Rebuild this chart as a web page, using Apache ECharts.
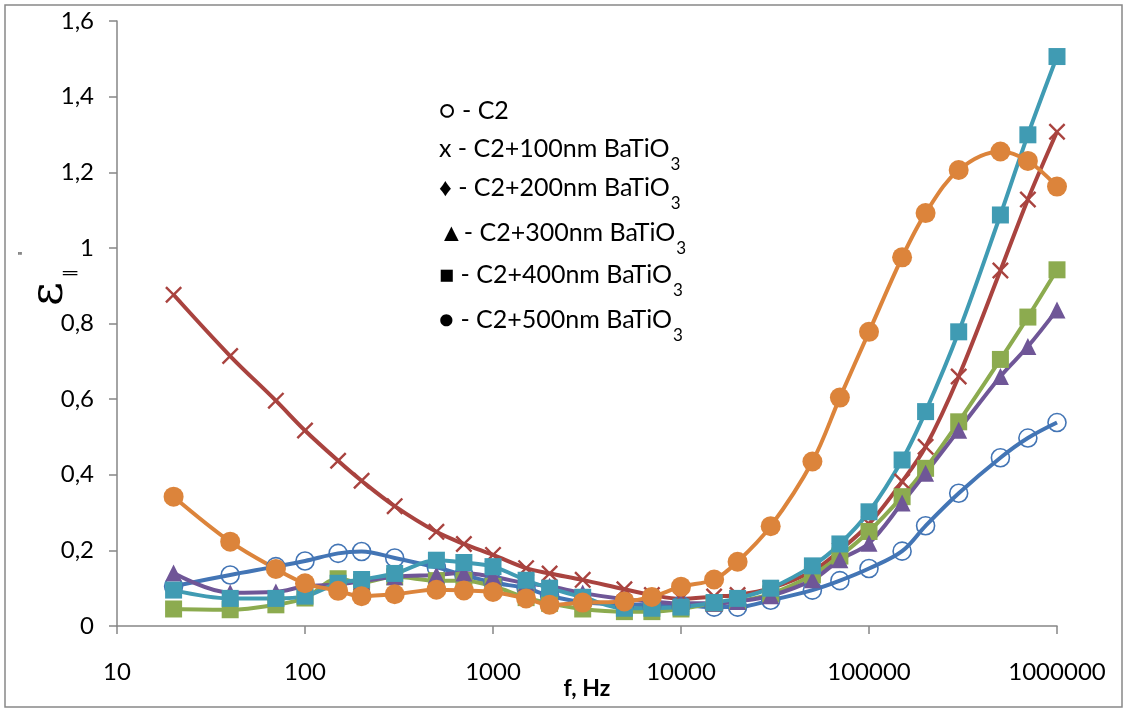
<!DOCTYPE html>
<html>
<head>
<meta charset="utf-8">
<script src="https://cdn.jsdelivr.net/npm/echarts@6/dist/echarts.min.js"></script>
<style>html,body{margin:0;padding:0;background:#fff}#c{width:1127px;height:711px}</style>
</head>
<body>
<div id="c"></div>
<script>
const freqs = [20,40,70,100,150,200,300,500,700,1000,1500,2000,3000,5000,7000,10000,15000,20000,30000,50000,70000,100000,150000,200000,300000,500000,700000,1000000];
const c2      = [0.105,0.135,0.157,0.172,0.192,0.197,0.18,0.155,0.135,0.115,0.1,0.08,0.063,0.057,0.055,0.055,0.05,0.05,0.068,0.095,0.12,0.152,0.198,0.265,0.351,0.445,0.497,0.538];
const c2_100  = [0.876,0.714,0.596,0.517,0.437,0.384,0.317,0.249,0.217,0.188,0.153,0.139,0.122,0.097,0.082,0.072,0.078,0.082,0.1,0.145,0.2,0.27,0.382,0.474,0.66,0.94,1.128,1.307];
const c2_200  = [0.045,0.043,0.056,0.074,0.125,0.115,0.13,0.12,0.12,0.105,0.075,0.06,0.045,0.038,0.038,0.045,0.06,0.065,0.085,0.135,0.185,0.25,0.342,0.417,0.54,0.705,0.817,0.942];
const c2_300  = [0.14,0.088,0.09,0.105,0.11,0.118,0.13,0.135,0.14,0.13,0.113,0.105,0.087,0.071,0.065,0.06,0.06,0.065,0.08,0.122,0.175,0.219,0.325,0.404,0.518,0.66,0.739,0.836];
const c2_400  = [0.095,0.073,0.073,0.079,0.113,0.123,0.139,0.174,0.168,0.157,0.121,0.1,0.076,0.047,0.047,0.05,0.062,0.073,0.1,0.159,0.217,0.302,0.439,0.567,0.778,1.087,1.299,1.506];
const c2_500  = [0.342,0.223,0.151,0.113,0.093,0.079,0.084,0.096,0.094,0.09,0.073,0.056,0.062,0.065,0.077,0.104,0.123,0.17,0.264,0.435,0.604,0.778,0.975,1.092,1.206,1.255,1.23,1.162];
const xTickLabels = ['10','100','1000','10000','100000','1000000'];
const legendLines = [
  {sym:'○', text:' - C2', sub:''},
  {sym:'x', text:' - C2+100nm BaTiO', sub:'3'},
  {sym:'♦', text:' - C2+200nm BaTiO', sub:'3'},
  {sym:'▲', text:'- C2+300nm BaTiO', sub:'3'},
  {sym:'■', text:' - C2+400nm BaTiO', sub:'3'},
  {sym:'●', text:' - C2+500nm BaTiO', sub:'3'}
];

const FONT = 'Lato';
const pairs = ys => freqs.map((f,i)=>[f, ys[i]]);
const crossPath = 'path://M0,1L1,0L10,9L9,10Z M9,0L10,1L1,10L0,9Z';

function mk(name, ys, color, symbol, size, extra) {
  return Object.assign({
    name, type:'line', data: pairs(ys), smooth: 0.35,
    symbol, symbolSize: size, showSymbol: true,
    lineStyle:{color, width:4},
    itemStyle:{color},
    emphasis:{disabled:true},
    animation:false
  }, extra || {});
}

const chart = echarts.init(document.getElementById('c'), null, {renderer:'canvas'});
const legendGraphics = legendLines.map((l,i)=>({
  type:'text', left: 439, top: [98,136,175,220,262,307][i],
  style:{
    rich:{
      m:{fontFamily:FONT, fontSize:25, lineHeight:30, verticalAlign:'top', fill:'#000'},
      s:{fontFamily:FONT, fontSize:17, lineHeight:17, padding:[20,0,0,1], verticalAlign:'top', fill:'#000'}
    },
    text: '{m|' + l.sym + l.text + '}' + (l.sub ? '{s|' + l.sub + '}' : '')
  }
}));

chart.setOption({
  backgroundColor:'#fff',
  animation:false,
  grid:{left:117, right:70, top:21, bottom:85, containLabel:false},
  xAxis:{
    type:'log', logBase:10, min:10, max:1000000,
    axisLine:{show:true, lineStyle:{color:'#868686', width:1.5}},
    axisTick:{show:true, length:8, lineStyle:{color:'#868686', width:1.5}},
    splitLine:{show:false},
    axisLabel:{fontFamily:FONT, fontSize:24, color:'#000', margin:34,
      formatter: v => { const k = Math.round(Math.log10(v)) - 1; return xTickLabels[k] !== undefined ? xTickLabels[k] : String(Math.round(v)); }}
  },
  yAxis:{
    type:'value', min:0, max:1.6, interval:0.2,
    axisLine:{show:true, lineStyle:{color:'#868686', width:1.5}},
    axisTick:{show:true, length:8, lineStyle:{color:'#868686', width:1.5}},
    splitLine:{show:false},
    axisLabel:{fontFamily:FONT, fontSize:24, color:'#000', margin:23,
      formatter: v => { const r = Math.round(v*10)/10; return Number.isInteger(r) ? String(r) : r.toFixed(1).replace('.', ','); }}
  },
  series:[
    mk('C2', c2, '#4375b5', 'circle', 18, {itemStyle:{color:'rgba(255,255,255,0)', borderColor:'#4375b5', borderWidth:1.6}}),
    mk('C2+100nm BaTiO3', c2_100, '#a9433f', crossPath, 17),
    mk('C2+200nm BaTiO3', c2_200, '#8cab4f', 'rect', 17),
    mk('C2+300nm BaTiO3', c2_300, '#6f5697', 'triangle', 17),
    mk('C2+400nm BaTiO3', c2_400, '#409bb3', 'rect', 17),
    mk('C2+500nm BaTiO3', c2_500, '#dc843b', 'circle', 20)
  ],
  graphic:[
    {type:'rect', shape:{x:5, y:5, width:1117, height:702}, style:{fill:'none', stroke:'#888', lineWidth:1.5}, silent:true},
    {type:'text', x:587, y:689, style:{text:'f, Hz', fontFamily:FONT, fontSize:23, fontWeight:'bold', fill:'#000', align:'center', verticalAlign:'middle'}},
    {type:'text', x:50, y:294, rotation:Math.PI/2, style:{text:'ε', fontFamily:'DejaVu Serif', fontSize:46, fill:'#000', align:'center', verticalAlign:'middle'}},
    {type:'text', x:70, y:274, scaleY:0.55, style:{text:'=', fontFamily:FONT, fontSize:34, fill:'#000', align:'center', verticalAlign:'middle'}},
    {type:'text', x:20, y:256, style:{text:'"', fontFamily:FONT, fontSize:12, fill:'#000', align:'center', verticalAlign:'middle'}}
  ].concat(legendGraphics)
});
</script>
</body>
</html>
